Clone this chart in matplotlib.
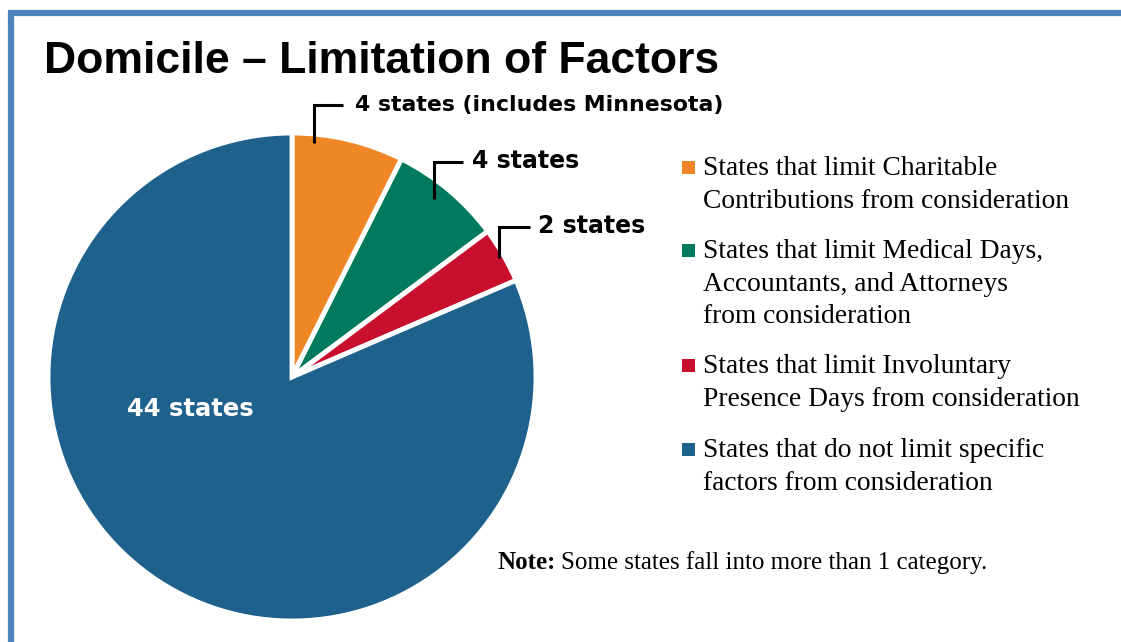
import matplotlib
matplotlib.use("Agg")
import matplotlib.pyplot as plt
from matplotlib.lines import Line2D

# ---- data ----
categories = [
    "States that limit Charitable\nContributions from consideration",
    "States that limit Medical Days,\nAccountants, and Attorneys\nfrom consideration",
    "States that limit Involuntary\nPresence Days from consideration",
    "States that do not limit specific\nfactors from consideration",
]
state_counts = [4, 4, 2, 44]
slice_labels = ["4 states (includes Minnesota)", "4 states", "2 states", "44 states"]
colors = ["#EF8726", "#007A5E", "#C8102E", "#1F618D"]

W, H = 1121, 642
fig = plt.figure(figsize=(W / 100, H / 100), dpi=100)
fig.patch.set_facecolor("white")
ax = fig.add_axes([0, 0, 1, 1])

# Pie (y axis inverted afterwards -> counterclock=True draws clockwise on screen, start at top)
cx, cy, R = 292, 377, 244
wedges, _ = ax.pie(state_counts, colors=colors, startangle=-90, counterclock=True,
                   center=(cx, cy), radius=R,
                   wedgeprops=dict(edgecolor="white", linewidth=3.5), frame=True)
ax.set_xlim(0, W)
ax.set_ylim(H, 0)
ax.set_aspect("equal")
ax.axis("off")

# frame lines (top and left)
ax.add_line(Line2D([8, W], [13, 13], color="#4F81BD", lw=4.5, solid_capstyle="butt"))
ax.add_line(Line2D([10.5, 10.5], [11, H], color="#4F81BD", lw=4.5, solid_capstyle="butt"))

# Title
ax.text(44, 73, "Domicile \u2013 Limitation of Factors", fontsize=32, fontweight="bold",
        family="Liberation Sans", va="baseline", ha="left", color="black")

# Callouts: (line bottom x, y), corner y, horizontal end x, text x, font size
callouts = [
    ((314, 143), 105, 343, 355, 15.8),
    ((434, 199), 162, 463, 472, 17),
    ((499, 258), 227, 530, 538, 17),
]
for ((x0, y0), yc, x1, tx, fs), lab in zip(callouts, slice_labels[:3]):
    ax.add_line(Line2D([x0, x0, x1], [y0, yc, yc], color="black", lw=2.2,
                       solid_joinstyle="miter", solid_capstyle="butt"))
    ax.text(tx, yc + 6, lab, fontsize=fs, fontweight="bold", family="DejaVu Sans",
            va="baseline", ha="left", color="black")

ax.text(190, 416, slice_labels[3], fontsize=17.5, fontweight="bold", family="DejaVu Sans",
        va="baseline", ha="center", color="white")

# Legend
leg_base = [175, 258, 373, 457]
line_h = 32.7
for cat, col, y in zip(categories, colors, leg_base):
    ax.add_patch(plt.Rectangle((682, y - 14), 13, 13, color=col, lw=0))
    for i, ln in enumerate(cat.split("\n")):
        ax.text(703, y + i * line_h, ln, fontsize=19.8, family="Liberation Serif",
                va="baseline", ha="left", color="black")

# Note
t = ax.text(498, 569, "Note:", fontsize=18, fontweight="bold", family="Liberation Serif",
            va="baseline", ha="left", color="black")
fig.canvas.draw()
bb = t.get_window_extent()
ax.text(498 + bb.width + 5, 569, "Some states fall into more than 1 category.", fontsize=18,
        family="Liberation Serif", va="baseline", ha="left", color="black")

fig.savefig("out.png", dpi=100, facecolor="white")
